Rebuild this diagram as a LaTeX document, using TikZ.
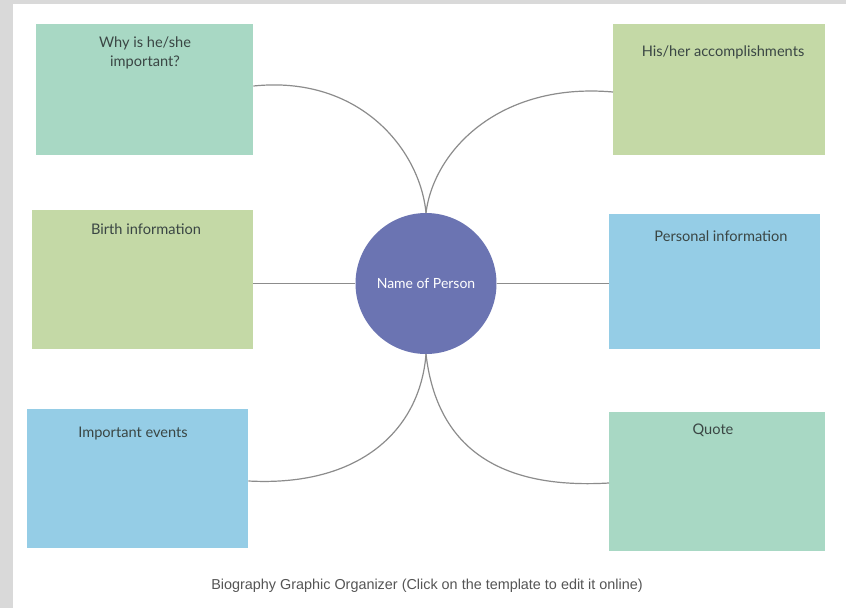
\documentclass[tikz,border=0pt]{standalone}
\usepackage{fontspec}
\setmainfont{Lato}
\newfontfamily\captionfont{Liberation Sans}
\definecolor{mint}{HTML}{A8D8C4}
\definecolor{leaf}{HTML}{C4D9A6}
\definecolor{sky}{HTML}{95CDE6}
\definecolor{hub}{HTML}{6B74B2}
\definecolor{ink}{HTML}{3A4644}
\definecolor{wire}{HTML}{8C8C8C}
\definecolor{frame}{HTML}{D9D9D9}
\definecolor{captiongray}{HTML}{555555}
\begin{document}
\begin{tikzpicture}[x=1pt,y=-1pt,
  card/.style={draw=none, inner sep=0pt, anchor=north west},
  title/.style={text=ink, font=\fontsize{14.6}{19}\selectfont, align=center},
  link/.style={draw=wire, line width=1.2pt}]
\useasboundingbox (0,0) rectangle (846,608);
% page background with grey frame on the left and top
\fill[frame] (0,0) rectangle (846,608);
\fill[white] (13,4) rectangle (846,608);

% boxes
\fill[mint] (36,24) rectangle (253,155);
\node[card, minimum width=217pt, minimum height=131pt] (why) at (36,24) {};
\fill[leaf] (613,24) rectangle (825,155);
\node[card, minimum width=212pt, minimum height=131pt] (acc) at (613,24) {};
\fill[leaf] (32,210) rectangle (253,349);
\node[card, minimum width=221pt, minimum height=139pt] (birth) at (32,210) {};
\fill[sky] (609,214) rectangle (820,349);
\node[card, minimum width=211pt, minimum height=135pt] (pers) at (609,214) {};
\fill[sky] (27,409) rectangle (248,548);
\node[card, minimum width=221pt, minimum height=139pt] (events) at (27,409) {};
\fill[mint] (609,412) rectangle (825,551);
\node[card, minimum width=216pt, minimum height=139pt] (quote) at (609,412) {};

% box titles
\node[title] (whyT) at (145,53) {Why is he/she\\important?};
\node[title] (accT) at (723,52) {His/her accomplishments};
\node[title] (birthT) at (146,229) {Birth information};
\node[title] (persT) at (721,236) {Personal information};
\node[title] (eventsT) at (133,434) {Important events};
\node[title] (quoteT) at (713,430) {Quote};

% central circle
\node[circle, fill=hub, minimum size=141pt, inner sep=0pt, text=white,
  font=\fontsize{14}{17}\selectfont] (hub) at (426,283.5) {Name of Person};

% connectors
\draw[link] (hub.north) .. controls (420,150) and (360,75) .. (why.east |- 0,86);
\draw[link] (hub.north) .. controls (434,150) and (500,82) .. (acc.west |- 0,92);
\draw[link] (hub.west) -- (birth.east |- hub.west);
\draw[link] (hub.east) -- (pers.west |- hub.east);
\draw[link] (hub.south) .. controls (420,430) and (360,487) .. (events.east |- 0,481);
\draw[link] (hub.south) .. controls (436,440) and (490,490) .. (quote.west |- 0,483);

% caption
\node[text=captiongray, font=\captionfont\fontsize{14.4}{17}\selectfont] (cap) at (427,586)
  {Biography Graphic Organizer (Click on the template to edit it online)};
\end{tikzpicture}
\end{document}
